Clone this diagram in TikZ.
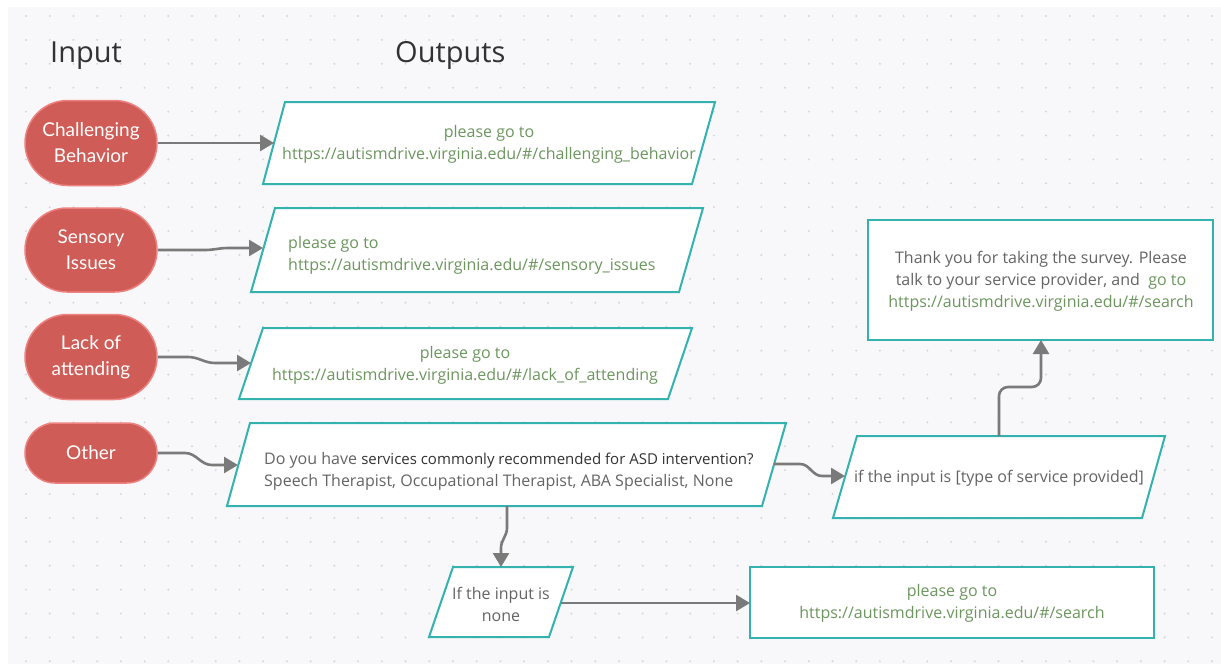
\documentclass[tikz,border=0pt]{standalone}
\usepackage{fontspec}
\setmainfont{Open Sans}
\newfontfamily\latofont{Lato}
\usetikzlibrary{shapes.misc,arrows.meta}
\definecolor{panelbg}{RGB}{248,248,250}
\definecolor{dotc}{RGB}{214,214,218}
\definecolor{pillfill}{RGB}{207,92,86}
\definecolor{pillborder}{RGB}{238,130,128}
\definecolor{tealb}{RGB}{52,178,176}
\definecolor{conngray}{RGB}{122,122,122}
\definecolor{greentxt}{RGB}{108,150,94}
\definecolor{graytxt}{RGB}{100,100,100}
\definecolor{darktxt}{RGB}{50,50,50}
\tikzset{
  pill/.style={rounded rectangle, draw=pillborder, line width=1.5pt, fill=pillfill,
    text=white, font=\latofont\fontsize{19}{26}\selectfont, align=center,
    minimum width=132pt, inner sep=0pt},
  para/.style={draw=tealb, line width=2pt, fill=white, line join=miter},
  txt/.style={font=\fontsize{16}{22}\selectfont, align=center, inner sep=0pt},
  conn/.style={draw=conngray, line width=2.6pt, -{Triangle[length=14pt,width=16pt]}},
  title/.style={font=\fontsize{29}{32}\selectfont, text=darktxt, inner sep=0pt, anchor=base west}
}
\begin{document}
\begin{tikzpicture}[x=1pt,y=-1pt]
% background
\useasboundingbox (0,0) rectangle (1221,664);
\fill[white] (0,0) rectangle (1221,664);
\fill[panelbg] (8,7) rectangle (1221,664);
\foreach \i in {0,...,50}{
  \foreach \j in {0,...,27}{
    \fill[dotc] ({26+23.72*\i},{16+23.9*\j}) circle (1.1pt);
  }
}
% titles
\node[title] (tin) at (50,62) {Input};
\node[title] (tout) at (395,62) {Outputs};
% pills
\node[pill, minimum height=85pt] (cb) at (91,143) {Challenging\\Behavior};
\node[pill, minimum height=84pt] (si) at (91,250) {Sensory\\Issues};
\node[pill, minimum height=85pt] (la) at (91,357) {Lack of\\attending};
\node[pill, minimum height=60pt] (ot) at (91,453) {Other};
% P1
\draw[para] (263,184) -- (692,184) -- (715,102) -- (285,102) -- cycle;
\node[txt, text=greentxt] (t1) at (489,144) {please go to\\https://autismdrive.virginia.edu/\#/challenging\_behavior};
\coordinate (p1in) at (274,143);
% P2
\draw[para] (251,292) -- (679,292) -- (703,208) -- (275,208) -- cycle;
\node[txt, text=greentxt, align=left, anchor=west] (t2) at (288,255) {please go to\\https://autismdrive.virginia.edu/\#/sensory\_issues};
\coordinate (p2in) at (263,248);
% P3
\draw[para] (239,399) -- (668,399) -- (692,328) -- (263,328) -- cycle;
\node[txt, text=greentxt] (t3) at (465,365) {please go to\\https://autismdrive.virginia.edu/\#/lack\_of\_attending};
\coordinate (p3in) at (251,363);
% P4 question
\draw[para] (227,506) -- (762,506) -- (786,423) -- (250,423) -- cycle;
\node[txt, text=graytxt, align=left, anchor=west] (t4) at (264,471) {Do you have {\fontsize{15}{22}\selectfont\textcolor{darktxt}{services commonly recommended for ASD intervention?}}\\Speech Therapist, Occupational Therapist, ABA Specialist, None};
\coordinate (p4in) at (238,465);
\coordinate (p4out) at (774,464);
\coordinate (p4down) at (507,506);
% P5
\draw[para] (429,637) -- (549,637) -- (573,567) -- (453,567) -- cycle;
\node[txt, text=graytxt] (t5) at (501,604) {If the input is\\none};
\coordinate (p5in) at (501,567);
\coordinate (p5out) at (561,603);
% P6
\draw[para] (750,567) rectangle (1154,638);
\node[txt, text=greentxt] (t6) at (952,603) {please go to\\https://autismdrive.virginia.edu/\#/search};
\coordinate (p6in) at (750,603);
% P7
\draw[para] (833,518) -- (1142,518) -- (1165,436) -- (857,436) -- cycle;
\node[txt, text=graytxt] (t7) at (999,478) {if the input is [type of service provided]};
\coordinate (p7in) at (845,476);
\coordinate (p7up) at (999,436);
% R thank you
\draw[para] (868,220) rectangle (1213,340);
\node[txt, text=graytxt] (t8) at (1041,281) {Thank you for taking the survey. Please\\talk to your service provider, and \ \textcolor{greentxt}{go to}\\\textcolor{greentxt}{https://autismdrive.virginia.edu/\#/search}};
\coordinate (rin) at (1041,340);
% connectors
\draw[conn] (cb.east) -- (p1in);
\draw[conn] (si.east) -- (205,250) to[out=0,in=180] (228,248) -- (p2in);
\draw[conn] (la.east) -- (188,357) to[out=0,in=180] (215,363) -- (p3in);
\draw[conn] (ot.east) -- (185,453) to[out=0,in=180] (212,465) -- (p4in);
\draw[conn] (p4out) -- (800,464) to[out=0,in=180] (822,476) -- (p7in);
\draw[conn, rounded corners=9pt] (p7up) -- (999,387) -- (1041,387) -- (rin);
\draw[conn] (p4down) -- (507,528) to[out=-90,in=90] (501,548) -- (p5in);
\draw[conn] (p5out) -- (p6in);
\end{tikzpicture}
\end{document}
